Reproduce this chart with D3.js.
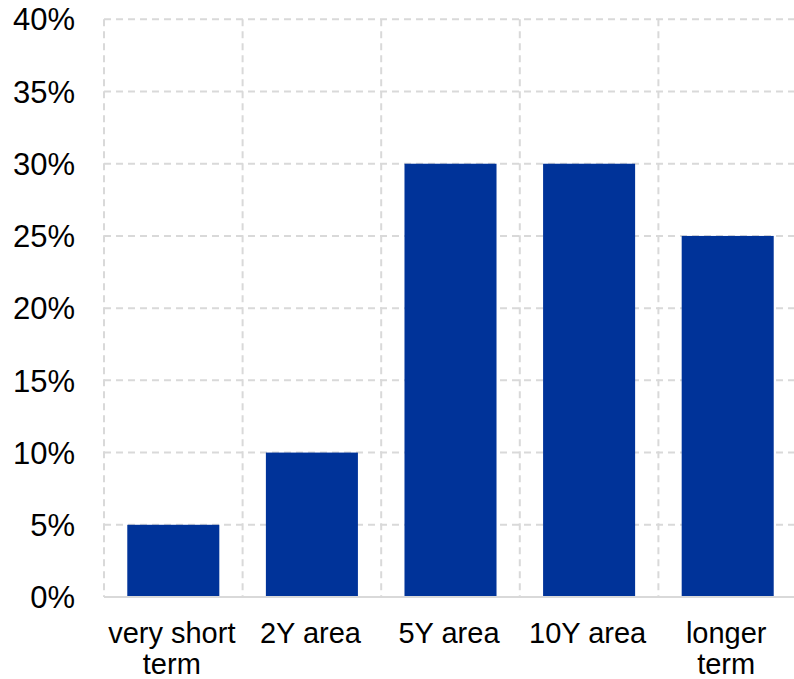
<!DOCTYPE html>
<html><head><meta charset="utf-8">
<script src="https://cdn.jsdelivr.net/npm/d3@7"></script>
<style>body{margin:0;background:#fff}</style>
</head><body>
<svg id="c" width="794" height="679"></svg>
<script>
const categories = [["very short","term"],["2Y area"],["5Y area"],["10Y area"],["longer","term"]];
const values = [5, 10, 30, 30, 25];
const yTicks = [0,5,10,15,20,25,30,35,40];

(function(){
const svg = d3.select("#c");
const mLeft = 104, mRight = 797, mTop = 19.3, mBottom = 597;
const x = d3.scaleBand().domain(d3.range(categories.length)).range([mLeft, mRight]).paddingInner(0.336).paddingOuter(0.168);
const xg = d3.scaleBand().domain(d3.range(categories.length)).range([mLeft, mRight]).padding(0);
const y = d3.scaleLinear().domain([0, 40]).range([mBottom, mTop]);
const font = "Liberation Sans, Arial, sans-serif";

svg.append("g").selectAll("line").data(yTicks.filter(d => d > 0)).join("line")
  .attr("x1", mLeft).attr("x2", 794).attr("y1", d => y(d)).attr("y2", d => y(d))
  .attr("stroke", "#d9d9d9").attr("stroke-width", 2).attr("stroke-dasharray", "7,5");
svg.append("g").selectAll("line").data(d3.range(categories.length)).join("line")
  .attr("x1", d => xg(d)).attr("x2", d => xg(d)).attr("y1", y(40)).attr("y2", mBottom)
  .attr("stroke", "#d9d9d9").attr("stroke-width", 2).attr("stroke-dasharray", "7,5");

svg.append("g").selectAll("rect").data(values).join("rect")
  .attr("x", (d,i) => x(i)).attr("width", x.bandwidth())
  .attr("y", d => y(d)).attr("height", d => mBottom - y(d))
  .attr("fill", "#003399");

svg.append("line").attr("x1", mLeft).attr("x2", 794).attr("y1", mBottom).attr("y2", mBottom)
  .attr("stroke", "#d9d9d9").attr("stroke-width", 2);

svg.append("g").selectAll("text").data(yTicks).join("text")
  .attr("x", 75).attr("y", d => y(d)).attr("dy", "0.36em")
  .attr("text-anchor", "end").attr("font-family", font).attr("font-size", 31).attr("fill", "#000")
  .text(d => d + "%");

const xl = svg.append("g").selectAll("text").data(categories).join("text")
  .attr("x", (d,i) => xg(i) + xg.bandwidth()/2 - 1.5).attr("y", 643)
  .attr("text-anchor", "middle").attr("font-family", font).attr("font-size", 29).attr("fill", "#000");
xl.selectAll("tspan").data(d => d).join("tspan")
  .attr("x", function(){ return d3.select(this.parentNode).attr("x"); })
  .attr("dy", (d,i) => i === 0 ? 0 : 31).text(d => d);
})();
</script>
</body></html>
